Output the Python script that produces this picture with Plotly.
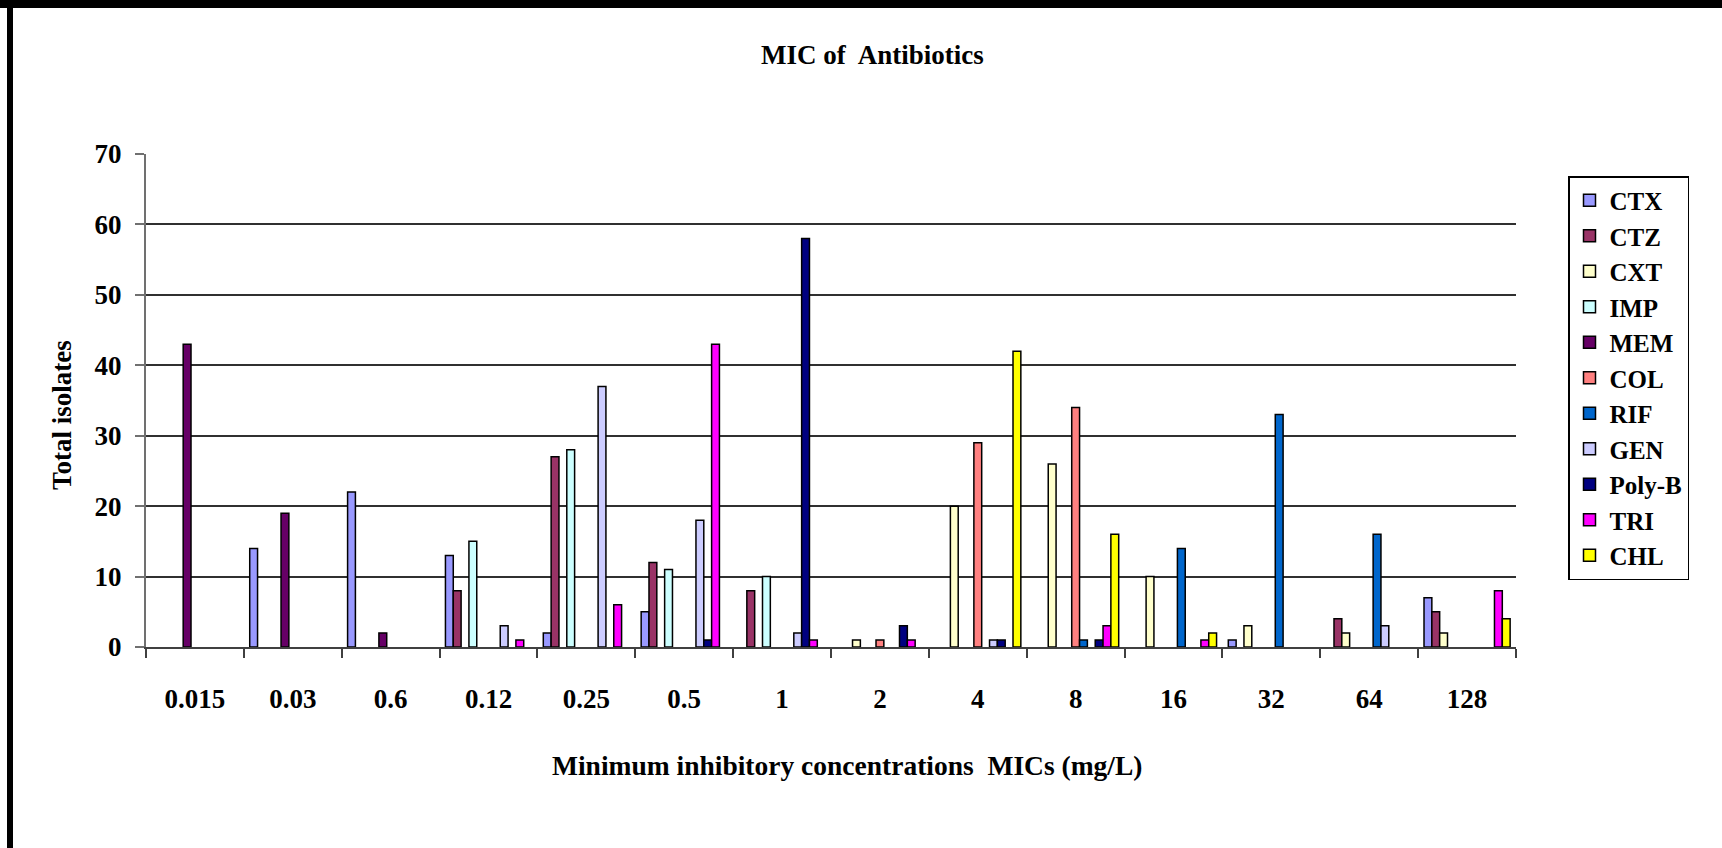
import plotly.graph_objects as go

# MIC categories (mg/L) as printed on the axis
categories = ["0.015", "0.03", "0.6", "0.12", "0.25", "0.5", "1", "2", "4", "8", "16", "32", "64", "128"]

# Number of isolates per MIC value for each antibiotic
CTX    = [0, 14, 22, 13, 2, 5, 0, 0, 0, 0, 0, 1, 0, 7]
CTZ    = [0, 0, 0, 8, 27, 12, 8, 0, 0, 0, 0, 0, 4, 5]
CXT    = [0, 0, 0, 0, 0, 0, 0, 1, 20, 26, 10, 3, 2, 2]
IMP    = [0, 0, 0, 15, 28, 11, 10, 0, 0, 0, 0, 0, 0, 0]
MEM    = [43, 19, 2, 0, 0, 0, 0, 0, 0, 0, 0, 0, 0, 0]
COL    = [0, 0, 0, 0, 0, 0, 0, 1, 29, 34, 0, 0, 0, 0]
RIF    = [0, 0, 0, 0, 0, 0, 0, 0, 0, 1, 14, 33, 16, 0]
GEN    = [0, 0, 0, 3, 37, 18, 2, 0, 1, 0, 0, 0, 3, 0]
POLY_B = [0, 0, 0, 0, 0, 1, 58, 3, 1, 1, 0, 0, 0, 0]
TRI    = [0, 0, 0, 1, 6, 43, 1, 1, 0, 3, 1, 0, 0, 8]
CHL    = [0, 0, 0, 0, 0, 0, 0, 0, 42, 16, 2, 0, 0, 4]

series = [
    ("CTX", CTX, "#9999FF"),
    ("CTZ", CTZ, "#993366"),
    ("CXT", CXT, "#FFFFCC"),
    ("IMP", IMP, "#CCFFFF"),
    ("MEM", MEM, "#660066"),
    ("COL", COL, "#FF8080"),
    ("RIF", RIF, "#0066CC"),
    ("GEN", GEN, "#CCCCFF"),
    ("Poly-B", POLY_B, "#000080"),
    ("TRI", TRI, "#FF00FF"),
    ("CHL", CHL, "#FFFF00"),
]

W, H = 1722, 848
L, R, T, B = 146, 206, 154, 201
PW, PH = W - L - R, H - T - B


def px_x(px):
    return (px - L) / PW


def px_y(py):
    return (H - B - py) / PH


FONT = "Liberation Serif, Times New Roman, serif"

fig = go.Figure()
for name, vals, color in series:
    fig.add_trace(go.Bar(
        name=name,
        x=categories,
        y=[v if v else None for v in vals],
        marker=dict(color=color, line=dict(color="black", width=1.5)),
    ))

fig.update_layout(
    width=W, height=H,
    margin=dict(l=L, r=R, t=T, b=B),
    paper_bgcolor="white",
    plot_bgcolor="white",
    barmode="group",
    bargap=0.12,
    bargroupgap=0,
    font=dict(family=FONT, size=27, color="black", weight="bold"),
    showlegend=True,
    legend=dict(
        x=px_x(1568), xanchor="left",
        y=px_y(176), yanchor="top",
        bordercolor="black", borderwidth=1.5,
        bgcolor="white",
        font=dict(family=FONT, size=25, color="black", weight="bold"),
        itemwidth=30,
        tracegroupgap=0,
    ),
    xaxis=dict(
        type="category",
        showline=True, linecolor="#404040", linewidth=2,
        ticks="outside", tickson="boundaries", ticklen=9, tickcolor="#404040", tickwidth=1.5,
        showgrid=False,
        ticklabelstandoff=27,
        tickfont=dict(family=FONT, size=27, color="black", weight="bold"),
    ),
    yaxis=dict(
        range=[0, 70], dtick=10,
        showline=True, linecolor="#707070", linewidth=2,
        ticks="outside", ticklen=9, tickcolor="#707070", tickwidth=1.5,
        showgrid=True, gridcolor="#303030", gridwidth=1.5,
        zeroline=False,
        ticklabelstandoff=8,
        tickfont=dict(family=FONT, size=27, color="black", weight="bold"),
    ),
    annotations=[
        dict(text="MIC of  Antibiotics", xref="paper", yref="paper",
             x=px_x(872), y=px_y(55), xanchor="center", yanchor="middle",
             showarrow=False, font=dict(family=FONT, size=27, weight="bold")),
        dict(text="Total isolates", xref="paper", yref="paper",
             x=px_x(62), y=px_y(415), xanchor="center", yanchor="middle",
             textangle=-90, showarrow=False, font=dict(family=FONT, size=27, weight="bold")),
        dict(text="Minimum inhibitory concentrations  MICs (mg/L)", xref="paper", yref="paper",
             x=px_x(847), y=px_y(765), xanchor="center", yanchor="middle",
             showarrow=False, font=dict(family=FONT, size=27.5, weight="bold")),
    ],
    shapes=[
        # frame: heavy top rule and left rule
        dict(type="rect", xref="paper", yref="paper", layer="above",
             x0=px_x(0), x1=px_x(W), y0=px_y(8), y1=px_y(0),
             fillcolor="black", line=dict(width=0)),
        dict(type="rect", xref="paper", yref="paper", layer="above",
             x0=px_x(7), x1=px_x(13), y0=px_y(H), y1=px_y(0),
             fillcolor="black", line=dict(width=0)),
    ],
)

fig.write_html("out.html")
